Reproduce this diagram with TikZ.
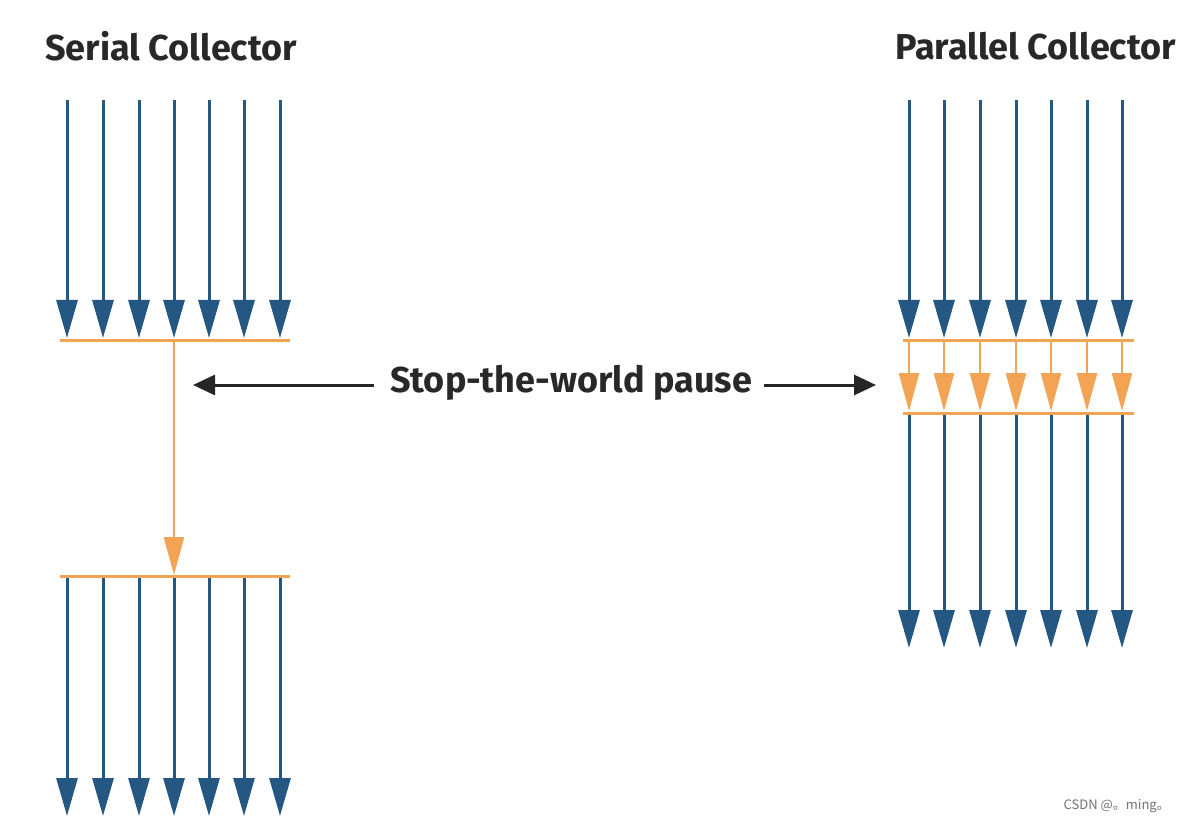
\documentclass[tikz,border=0pt]{standalone}
\usepackage{fontspec}
\setmainfont{Fira Sans}
\newfontfamily\cjkf{Noto Sans CJK SC}
\usetikzlibrary{arrows.meta}
\definecolor{threadblue}{RGB}{36,88,130}
\definecolor{gcorange}{RGB}{242,164,84}
\definecolor{txtgray}{RGB}{40,40,40}
\begin{document}
\begin{tikzpicture}[x=1pt,y=-1pt,
  thread/.style={draw=threadblue,line width=3pt,-{Triangle[length=38pt,width=21pt]}},
  gcthread/.style={draw=gcorange,line width=2.5pt,-{Triangle[length=38pt,width=20pt]}},
  bar/.style={draw=gcorange,line width=3pt},
  pausearrow/.style={draw=black!85,line width=3pt,-{Triangle[length=22pt,width=20pt]}},
  title/.style={font=\bfseries\fontsize{36}{40}\selectfont,text=txtgray,inner sep=0pt},
  label/.style={font=\bfseries\fontsize{36}{40}\selectfont,text=txtgray,inner sep=0pt}]
\useasboundingbox[fill=white] (0,0) rectangle (1183,826);
% titles
\node[title,anchor=west] (st) at (45,46) {Serial Collector};
\node[title,anchor=east] (pt) at (1176,46) {Parallel Collector};
% serial collector
\foreach \i/\x in {1/67,2/103,3/139,4/174,5/209,6/244,7/280}{
  \coordinate (sa\i) at (\x,100);
  \coordinate (sb\i) at (\x,338);
  \coordinate (sc\i) at (\x,577);
  \coordinate (sd\i) at (\x,816);
  \draw[thread] (sa\i) -- (sb\i);
  \draw[thread] (sc\i) -- (sd\i);
}
\coordinate (sl1) at (60,340); \coordinate (sr1) at (290,340);
\coordinate (sl2) at (60,576); \coordinate (sr2) at (290,576);
\draw[bar] (sl1) -- (sr1);
\draw[bar] (sl2) -- (sr2);
\coordinate (so1) at (174,340); \coordinate (so2) at (174,575);
\draw[gcthread] (so1) -- (so2);
% parallel collector
\foreach \i/\x in {1/909,2/944,3/980,4/1016,5/1051,6/1087,7/1122}{
  \coordinate (pa\i) at (\x,100);
  \coordinate (pb\i) at (\x,338);
  \coordinate (pc\i) at (\x,341);
  \coordinate (pd\i) at (\x,411);
  \coordinate (pe\i) at (\x,414);
  \coordinate (pf\i) at (\x,648);
  \draw[thread] (pa\i) -- (pb\i);
  \draw[gcthread] (pc\i) -- (pd\i);
  \draw[thread] (pe\i) -- (pf\i);
}
\coordinate (pl1) at (903,340); \coordinate (pr1) at (1134,340);
\coordinate (pl2) at (903,413); \coordinate (pr2) at (1134,413);
\draw[bar] (pl1) -- (pr1);
\draw[bar] (pl2) -- (pr2);
% pause label
\node[label] (pause) at (571,383) {Stop-the-world pause};
\coordinate (lt) at (193,385);
\coordinate (rt) at (876,385);
\draw[pausearrow] ([xshift=-16pt]pause.west |- lt) -- (lt);
\draw[pausearrow] ([xshift=12pt]pause.east |- rt) -- (rt);
% watermark
\node[font=\cjkf\fontsize{13}{15}\selectfont,text=black!55,anchor=east,inner sep=0pt] (wm) at (1170,806) {CSDN @。ming。};
\end{tikzpicture}
\end{document}
